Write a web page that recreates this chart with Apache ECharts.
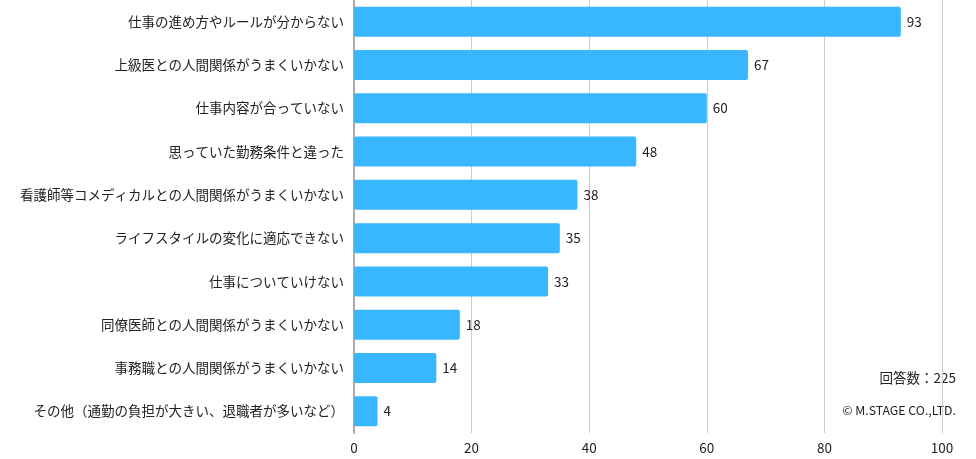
<!DOCTYPE html>
<html><head><meta charset="utf-8">
<script src="https://cdn.jsdelivr.net/npm/echarts@6/dist/echarts.min.js"></script>
<style>html,body{margin:0;padding:0;background:#fff}#c{width:976px;height:459px}</style>
</head><body><div id="c"></div>
<script>
const categories = [
  "仕事の進め方やルールが分からない",
  "上級医との人間関係がうまくいかない",
  "仕事内容が合っていない",
  "思っていた勤務条件と違った",
  "看護師等コメディカルとの人間関係がうまくいかない",
  "ライフスタイルの変化に適応できない",
  "仕事についていけない",
  "同僚医師との人間関係がうまくいかない",
  "事務職との人間関係がうまくいかない",
  "その他（通勤の負担が大きい、退職者が多いなど）"
];
const values = [93, 67, 60, 48, 38, 35, 33, 18, 14, 4];
const xTicks = [0, 20, 40, 60, 80, 100];
const noteTotal = "回答数：225";
const noteCopy = "© M.STAGE CO.,LTD.";

const font = "'Noto Sans CJK JP', 'Noto Sans', sans-serif";
const chart = echarts.init(document.getElementById('c'));
chart.setOption({
  animation: false,
  textStyle: { fontFamily: font },
  grid: { left: 354, right: 34, top: 0, bottom: 26, containLabel: false },
  xAxis: {
    type: 'value', min: xTicks[0], max: xTicks[xTicks.length - 1], interval: 20,
    axisLine: { show: false }, axisTick: { show: false },
    axisLabel: { color: '#222', fontSize: 13.5, fontFamily: font, margin: 8 },
    splitLine: { lineStyle: { color: '#cccccc', width: 1 } }
  },
  yAxis: {
    type: 'category', data: categories, inverse: true,
    axisLine: { show: true, lineStyle: { color: '#aaaaaa', width: 2 } },
    axisTick: { show: false },
    axisLabel: { color: '#222', fontSize: 13.5, fontFamily: font, margin: 10 }
  },
  series: [{
    type: 'bar', data: values, barWidth: 30,
    itemStyle: { color: '#38b6ff', borderRadius: 2 },
    label: { show: true, position: 'right', color: '#222', fontSize: 13.5, fontFamily: font, distance: 6 }
  }],
  graphic: [
    { type: 'text', right: 20, top: 371, style: { text: noteTotal, fill: '#222', font: '13.5px ' + font, textAlign: 'right' } },
    { type: 'text', right: 20, top: 404, style: { text: noteCopy, fill: '#222', font: '12.3px ' + font, textAlign: 'right' } }
  ]
});
</script></body></html>
